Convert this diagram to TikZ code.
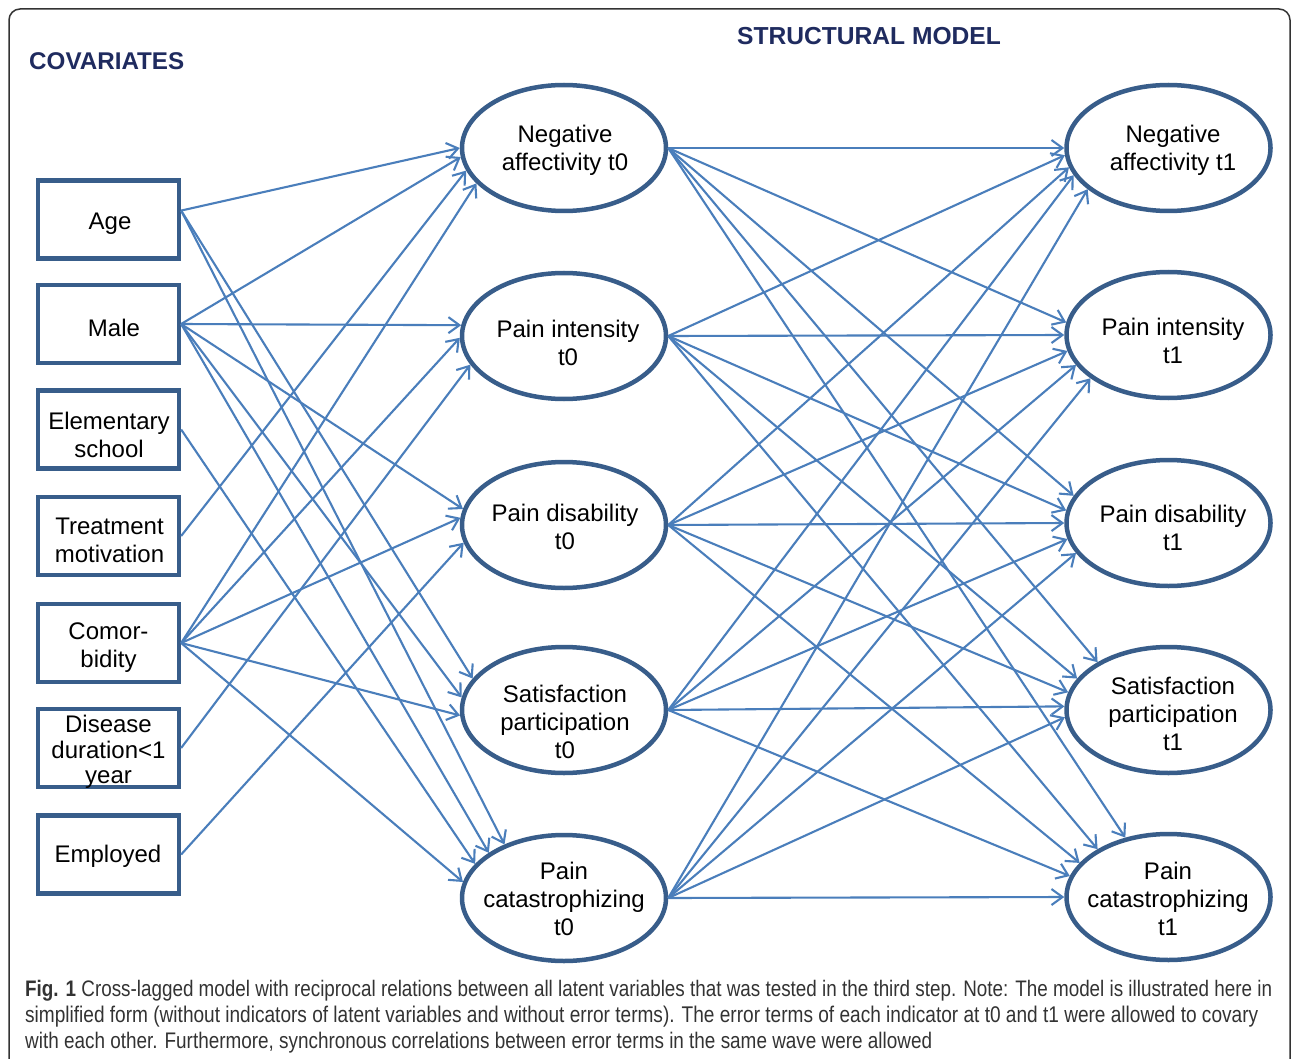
\documentclass[tikz,border=0pt]{standalone}
\usepackage{fontspec}
\usepackage{graphicx}
\setmainfont{Liberation Sans}
\newfontfamily\capfont[FakeStretch=0.84]{Liberation Sans}
\usetikzlibrary{arrows.meta,shapes.geometric}
\definecolor{boxblue}{HTML}{385D8A}
\definecolor{lineblue}{HTML}{4A7EBB}
\definecolor{titlenavy}{HTML}{1F2B5F}
\definecolor{capgray}{HTML}{333333}
\definecolor{framegray}{HTML}{333333}
\begin{document}
\begin{tikzpicture}[x=1pt,y=-1pt,
  covbox/.style={rectangle,draw=boxblue,line width=4.3pt,minimum width=141pt,minimum height=78pt,inner sep=0pt},
  latent/.style={ellipse,draw=boxblue,line width=4.5pt,minimum width=204pt,minimum height=126pt,inner sep=0pt},
  lbl/.style={align=center,font=\fontsize{24}{28}\selectfont,inner sep=0pt},
  conn/.style={draw=lineblue,line width=2.1pt,-{Straight Barb[length=11pt,width=16pt]}},
  titletext/.style={text=titlenavy,inner sep=0pt,anchor=base west},
  capline/.style={anchor=base west,inner sep=0pt,text=capgray}]
\useasboundingbox (0,0) rectangle (1292,1059);
\draw[framegray,line width=1.5pt,rounded corners=11pt] (9,1070) -- (9,9) -- (1290,9) -- (1290,1070);

\node[titletext,font=\bfseries\fontsize{24.2}{28}\selectfont] (covt) at (29,70) {COVARIATES};
\node[titletext,font=\bfseries\fontsize{24.6}{28}\selectfont] (strt) at (737,45) {STRUCTURAL MODEL};

% covariates
\node[covbox] (age) at (108.5,219.5) {};
\node[covbox] (male) at (108.5,324) {};
\node[covbox] (elem) at (108.5,429.5) {};
\node[covbox] (treat) at (108.5,536) {};
\node[covbox] (comorb) at (108.5,643) {};
\node[covbox] (dis) at (108.5,748) {};
\node[covbox] (empl) at (108.5,854.5) {};
\node[lbl] (aget) at (110,224) {Age};
\node[lbl] (malet) at (114,328) {Male};
\node[lbl] (elemt) at (109,434.5) {Elementary\\school};
\node[lbl] (treatt) at (109.5,540) {Treatment\\motivation};
\node[lbl] (comorbt) at (108.5,648) {Comor-\\bidity};
\node[lbl,font=\fontsize{24}{25.5}\selectfont] (dist) at (108.5,752) {Disease\\duration<1\\year};
\node[lbl] (emplt) at (108,856.5) {Employed};

% latent t0
\node[latent] (na0) at (564,148) {};
\node[latent] (pi0) at (564,336) {};
\node[latent] (pd0) at (564,525) {};
\node[latent] (sp0) at (564,710) {};
\node[latent] (pc0) at (564,898) {};
% latent t1
\node[latent] (na1) at (1168.5,148) {};
\node[latent] (pi1) at (1168.5,335) {};
\node[latent] (pd1) at (1168.5,523) {};
\node[latent] (sp1) at (1168.5,710) {};
\node[latent] (pc1) at (1168.5,897) {};

\node[lbl] (na0t) at (565,150) {Negative\\affectivity t0};
\node[lbl] (pi0t) at (568,343) {Pain intensity\\t0};
\node[lbl] (pd0t) at (565,527) {Pain disability\\t0};
\node[lbl] (sp0t) at (565,722) {Satisfaction\\participation\\t0};
\node[lbl] (pc0t) at (564,899) {Pain\\catastrophizing\\t0};
\node[lbl] (na1t) at (1173,150) {Negative\\affectivity t1};
\node[lbl] (pi1t) at (1173,341) {Pain intensity\\t1};
\node[lbl] (pd1t) at (1173,528) {Pain disability\\t1};
\node[lbl] (sp1t) at (1173,714) {Satisfaction\\participation\\t1};
\node[lbl] (pc1t) at (1168,899) {Pain\\catastrophizing\\t1};

% covariate effects
\foreach \s/\t/\a in {age.7/na0/180, age.7/sp0/161, age.7/pc0/138,
  male.east/na0/185, male.east/pi0/174, male.east/pd0/171, male.east/sp0/173, male.east/pc0/149,
  elem.east/pc0/159, treat.east/na0/193,
  comorb.east/na0/202, comorb.east/pi0/181, comorb.east/pd0/176, comorb.east/sp0/183, comorb.east/pc0/171,
  dis.east/pi0/197, empl.east/pd0/190}
  \draw[conn] (\s) -- (\t.\a);

% cross-lagged structural paths
\foreach \s/\t/\a in {na0/na1/180, pi0/na1/184, pd0/na1/191, sp0/na1/196, pc0/na1/207,
  na0/pi1/173, pi0/pi1/180, pd0/pi1/189, sp0/pi1/198, pc0/pi1/209,
  na0/pd1/164, pi0/pd1/173, pd0/pd1/180, sp0/pd1/189, pc0/pd1/198,
  na0/sp1/146, pi0/sp1/161, pd0/sp1/170, sp0/sp1/178, pc0/sp1/184,
  na0/pc1/126, pi0/pc1/146, pd0/pc1/159, sp0/pc1/168, pc0/pc1/180}
  \draw[conn] (\s.east) -- (\t.\a);

% caption
\node[capline] (cap1) at (25,996) {\resizebox{1247pt}{!}{\capfont\fontsize{19}{22}\selectfont\textbf{Fig. 1} Cross-lagged model with reciprocal relations between all latent variables that was tested in the third step. Note: The model is illustrated here in}};
\node[capline] (cap2) at (25,1022) {\resizebox{1233pt}{!}{\capfont\fontsize{19}{22}\selectfont simplified form (without indicators of latent variables and without error terms). The error terms of each indicator at t0 and t1 were allowed to covary}};
\node[capline] (cap3) at (25,1048) {\resizebox{907pt}{!}{\capfont\fontsize{19}{22}\selectfont with each other. Furthermore, synchronous correlations between error terms in the same wave were allowed}};
\end{tikzpicture}
\end{document}
